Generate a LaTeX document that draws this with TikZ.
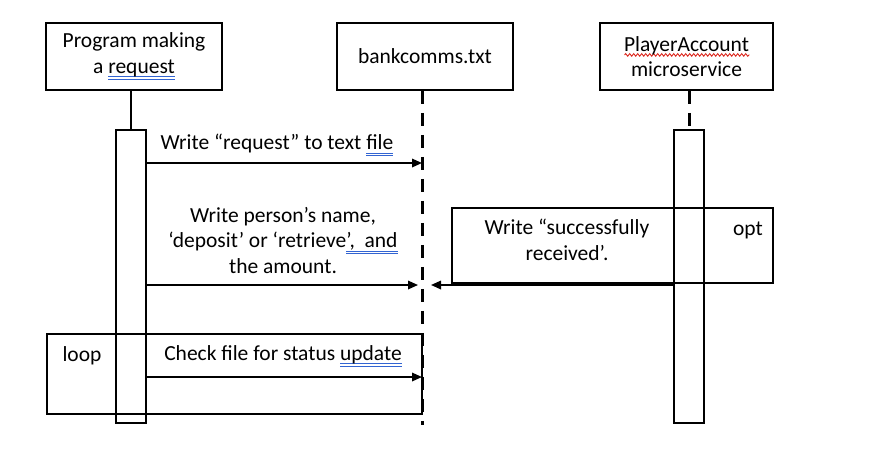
\documentclass[tikz,border=0pt]{standalone}
\usepackage{fontspec}
\setmainfont{Carlito}
\usetikzlibrary{arrows.meta,decorations.pathmorphing}
\definecolor{ulblue}{RGB}{50,100,210}
\definecolor{ulred}{RGB}{220,40,30}
\newcommand\bul[1]{\setbox0\hbox{#1}\leavevmode\rlap{\raisebox{-4pt}{\color{ulblue}\rule{\wd0}{1pt}}}\rlap{\raisebox{-6.5pt}{\color{ulblue}\rule{\wd0}{1pt}}}\box0}
\newcommand\rwav[1]{\setbox0\hbox{#1}\leavevmode\rlap{\tikz[baseline=0pt]\draw[ulred,line width=0.9pt,decorate,decoration={snake,amplitude=1.3pt,segment length=4pt}] (0,-3.8pt) -- (\wd0,-3.8pt);}\box0}
\begin{document}
\begin{tikzpicture}[x=1pt,y=-1pt,
  lbl/.style={font=\fontsize{21.5}{25.5}\selectfont,align=center,inner sep=0pt},
  actor/.style={draw,line width=1.7pt,minimum width=176pt,minimum height=67pt,lbl},
  actbar/.style={draw,line width=1.7pt,minimum width=30pt,minimum height=293pt,inner sep=0pt},
  frame/.style={draw,line width=1.7pt,inner sep=0pt},
  life/.style={line width=1.7pt},
  dlife/.style={line width=3pt,dash pattern=on 13pt off 9pt},
  msg/.style={line width=1.7pt,-{Triangle[length=10pt,width=8.5pt]}}]
\useasboundingbox (0,0) rectangle (870,472);
% actors
\node[actor] (p) at (134,56.5) {Program making\\a \bul{request}};
\node[actor] (b) at (425,56.5) {bankcomms.txt};
\node[actor,minimum width=173pt] (m) at (686.5,56.5) {\rwav{PlayerAccount}\\microservice};
% activation bars
\node[actbar] (a1) at (131,276.5) {};
\node[actbar] (a3) at (689,276.5) {};
% lifelines
\coordinate (bend) at (422,425);
\draw[life] (p.south -| a1.north) -- (a1.north);
\draw[dlife] (b.south -| bend) -- (bend);
\draw[dlife] (m.south -| a3.north) -- (a3.north);
% frames
\node[frame,minimum width=321pt,minimum height=75pt] (opt) at (612.5,245.5) {};
\node[frame,minimum width=375pt,minimum height=80pt] (loop) at (234.5,374) {};
\node[lbl] (optl) at (748,230) {opt};
\node[lbl] (loopl) at (82,356) {loop};
% messages
\coordinate (t1) at (422,163);
\coordinate (t2) at (418,285);
\coordinate (t3) at (431,285);
\coordinate (t4) at (422,377);
\draw[msg] (a1.east |- t1) -- (t1);
\draw[msg] (a1.east |- t2) -- (t2);
\draw[msg] (a3.west |- t3) -- (t3);
\draw[msg] (a1.east |- t4) -- (t4);
\node[lbl] (m1) at (277,145) {Write “request” to text \bul{file}};
\node[lbl] (m2) at (283,240) {Write person’s name,\\‘deposit’ or ‘retrieve\bul{’,~ and}\\the amount.};
\node[lbl] (m3) at (567,240) {Write “successfully\\received’.};
\node[lbl] (m4) at (283,356) {Check file for status \bul{update}};
\end{tikzpicture}
\end{document}
